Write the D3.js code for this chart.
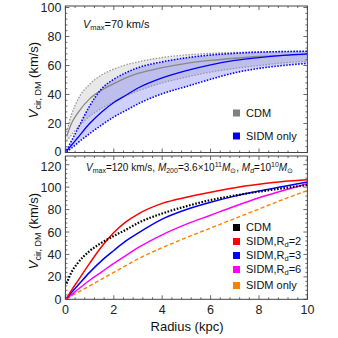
<!DOCTYPE html>
<html><head><meta charset="utf-8">
<script src="https://cdn.jsdelivr.net/npm/d3@7"></script>
<style>
html,body{margin:0;padding:0;background:#fff;}
svg{display:block;font-family:"Liberation Sans",Arial,sans-serif;}
</style></head>
<body><svg id="c" width="338" height="338"></svg>
<script>
// ---------- data ----------
const rTop = [0.05,0.25,0.5,1,1.5,2,2.5,3,4,5,6,7,8,9,10];
const cdmHi  = [14,26,36,47,53.5,57.5,60.5,62.5,65.5,67.3,68.4,69,69.4,69.6,69.8];
const cdmMid = [11,20,27,37,43,47.5,51.5,54.5,58.5,61.5,63.5,65,66.2,67,67.7];
const cdmLo  = [8,12,17,25,30.5,35,39,42.5,48,52,55.5,58,60,61.8,63];
const sidmHi  = [1.5,8,16,32,44,50.5,55,58.5,62.5,65.3,67.2,68.4,69.2,69.6,69.8];
const sidmMid = [1,5,10,20,28,34.5,39.5,44.5,51.5,56.5,60.5,63.5,65.5,67,68];
const sidmLo  = [0.5,3,6.5,13,19,24.5,29,33.5,40.5,45.5,50.5,55,58,60,61.5];

const rBot = [0.05,0.25,0.5,1,1.5,2,2.5,3,4,5,6,7,8,9,10];
const vCDM   = [14,24,32,43,50.5,56.5,62,68,76.5,83,88.5,92.5,96,99,102];
const vRd2   = [1,8,16,32,47,59.5,69,76,85.5,91,95.5,99.5,102.5,105,106.5];
const vRd3   = [1,6,12,24,34.5,43.5,52,59,71.5,80,86.5,92,96.5,100.5,104.5];
const vRd6   = [0.5,4,8.5,17,24.5,32,39,46,57.5,67,75,83,90.5,97,103];
const vSIDM  = [0.3,3,6,12,18,24,30,36,46,55,63.5,72,80.5,89,97];

const xTicks = [0,2,4,6,8,10];
const yTicksTop = [0,20,40,60,80,100];
const yTicksBot = [0,20,40,60,80,100,120];

// ---------- layout ----------
const svg = d3.select("#c");
const x = d3.scaleLinear([0,10],[65.4,307.4]);
const yT = d3.scaleLinear([0,100],[152.5,7.5]);
const yB = d3.scaleLinear([0,120],[299.3,164.7]);
const frameColor = "#444";

function panel(y, top, bottom, yMajor, yMinorStep, yMax, showX, labelShift){
  const g = svg.append("g");
  g.append("rect").attr("x",x(0)).attr("y",top).attr("width",x(10)-x(0)).attr("height",bottom-top)
    .attr("fill","none").attr("stroke",frameColor).attr("stroke-width",1);
  const xMinor = d3.range(0,10.001,0.4);
  xMinor.forEach(v=>{
    const isMaj = Math.abs(v/2-Math.round(v/2))<1e-6;
    const L = isMaj?4:2;
    g.append("line").attr("x1",x(v)).attr("x2",x(v)).attr("y1",bottom).attr("y2",bottom-L).attr("stroke",frameColor).attr("stroke-width",0.8);
    g.append("line").attr("x1",x(v)).attr("x2",x(v)).attr("y1",top).attr("y2",top+L).attr("stroke",frameColor).attr("stroke-width",0.8);
  });
  const yMinor = d3.range(0,yMax+0.001,yMinorStep);
  yMinor.forEach(v=>{
    const isMaj = yMajor.includes(Math.round(v));
    const L = isMaj?4:2;
    if (y(v) < top-0.5) return;
    g.append("line").attr("x1",x(0)).attr("x2",x(0)+L).attr("y1",y(v)).attr("y2",y(v)).attr("stroke",frameColor).attr("stroke-width",0.8);
    g.append("line").attr("x1",x(10)).attr("x2",x(10)-L).attr("y1",y(v)).attr("y2",y(v)).attr("stroke",frameColor).attr("stroke-width",0.8);
  });
  yMajor.forEach(v=>{
    g.append("text").attr("x",x(0)-4).attr("y",y(v)+(labelShift[v]||0)).attr("dy","0.36em").attr("text-anchor","end")
      .attr("font-size",12.5).attr("fill","#222").text(v);
  });
  if(showX){
    xTicks.forEach(v=>{
      g.append("text").attr("x",x(v)).attr("y",bottom+10).attr("dy","0.36em").attr("text-anchor","middle")
        .attr("font-size",12.5).attr("fill","#222").text(v);
    });
  }
  return g;
}

panel(yT, 6, 152.5, yTicksTop, 4, 100, false, {0:-1.5});
panel(yB, 156, 299.3, yTicksBot, 4, 124, true, {120:1.5});

const defs = svg.append("defs");
defs.append("clipPath").attr("id","clipT").append("rect").attr("x",x(0)).attr("y",6).attr("width",x(10)-x(0)).attr("height",146.5);
defs.append("clipPath").attr("id","clipB").append("rect").attr("x",x(0)).attr("y",156).attr("width",x(10)-x(0)).attr("height",143.3);

// ---------- top panel ----------
const gT = svg.append("g").attr("clip-path","url(#clipT)");
function band(rs, lo, hi, y){
  return d3.area().x((d,i)=>x(rs[i])).y0((d,i)=>y(lo[i])).y1((d,i)=>y(hi[i])).curve(d3.curveMonotoneX)(rs);
}
function line(rs, vs, y){
  return d3.line().x((d,i)=>x(rs[i])).y((d,i)=>y(vs[i])).curve(d3.curveMonotoneX)(rs);
}
gT.append("path").attr("d",band(rTop,cdmLo,cdmHi,yT)).attr("fill","rgba(150,150,150,0.22)");
gT.append("path").attr("d",band(rTop,sidmLo,sidmHi,yT)).attr("fill","rgba(40,40,255,0.22)");
[cdmHi,cdmLo].forEach(a=>gT.append("path").attr("d",line(rTop,a,yT)).attr("fill","none")
  .attr("stroke","#999").attr("stroke-width",1.3).attr("stroke-dasharray","1.5,1.5"));
gT.append("path").attr("d",line(rTop,cdmMid,yT)).attr("fill","none").attr("stroke","#888").attr("stroke-width",1.3);
[sidmHi,sidmLo].forEach(a=>gT.append("path").attr("d",line(rTop,a,yT)).attr("fill","none")
  .attr("stroke","#0000ff").attr("stroke-width",1.6).attr("stroke-dasharray","1.5,1.5"));
gT.append("path").attr("d",line(rTop,sidmMid,yT)).attr("fill","none").attr("stroke","#0000ff").attr("stroke-width",1.3);

const t1 = svg.append("text").attr("x",83).attr("y",28).attr("font-size",11).attr("fill","#111");
t1.append("tspan").attr("font-style","italic").text("V");
t1.append("tspan").attr("font-size",7.5).attr("dy",2).text("max");
t1.append("tspan").attr("dy",-2).text("=70 km/s");

const legTop = [["CDM","#808080"],["SIDM only","#0000ff"]];
legTop.forEach((d,i)=>{
  const yy = 113 + i*23;
  svg.append("rect").attr("x",233).attr("y",yy-3.5).attr("width",7).attr("height",7).attr("fill",d[1]);
  svg.append("text").attr("x",246).attr("y",yy).attr("dy","0.36em").attr("font-size",11).attr("fill","#111").text(d[0]);
});

// ---------- bottom panel ----------
const gB = svg.append("g").attr("clip-path","url(#clipB)");
gB.append("path").attr("d",line(rBot,vSIDM,yB)).attr("fill","none").attr("stroke","#ff8000").attr("stroke-width",1.4).attr("stroke-dasharray","4,2.5");
gB.append("path").attr("d",line(rBot,vRd6,yB)).attr("fill","none").attr("stroke","#ff00ff").attr("stroke-width",1.5);
gB.append("path").attr("d",line(rBot,vRd3,yB)).attr("fill","none").attr("stroke","#0000ff").attr("stroke-width",1.5);
gB.append("path").attr("d",line(rBot,vRd2,yB)).attr("fill","none").attr("stroke","#ff0000").attr("stroke-width",1.5);
gB.append("path").attr("d",line(rBot,vCDM,yB)).attr("fill","none").attr("stroke","#000").attr("stroke-width",2.2).attr("stroke-dasharray","1.6,1.6");

const t2 = svg.append("text").attr("x",86).attr("y",171).attr("font-size",10).attr("fill","#111");
t2.append("tspan").attr("font-style","italic").text("V");
t2.append("tspan").attr("font-size",7).attr("dy",2).text("max");
t2.append("tspan").attr("dy",-2).text("=120 km/s, ");
t2.append("tspan").attr("font-style","italic").text("M");
t2.append("tspan").attr("font-size",7).attr("dy",2).text("200");
t2.append("tspan").attr("dy",-2).text("=3.6×10");
t2.append("tspan").attr("font-size",7).attr("dy",-4).text("11");
t2.append("tspan").attr("font-style","italic").attr("dy",4).text("M");
t2.append("tspan").attr("font-size",7).attr("dy",2).text("⊙");
t2.append("tspan").attr("dy",-2).text(", ");
t2.append("tspan").attr("font-style","italic").text("M");
t2.append("tspan").attr("font-size",7).attr("font-style","italic").attr("dy",2).text("d");
t2.append("tspan").attr("dy",-2).text("=10");
t2.append("tspan").attr("font-size",7).attr("dy",-4).text("10");
t2.append("tspan").attr("font-style","italic").attr("dy",4).text("M");
t2.append("tspan").attr("font-size",7).attr("dy",2).text("⊙");

const legBot = [["CDM","#000000",null],["SIDM,R","#ff0000","=2"],["SIDM,R","#0000ff","=3"],["SIDM,R","#ff00ff","=6"],["SIDM only","#ff8000",null]];
const legY = [227.5,241.5,255.5,269.5,285.5];
legBot.forEach((d,i)=>{
  const yy = legY[i];
  svg.append("rect").attr("x",233).attr("y",yy-3.5).attr("width",7).attr("height",7).attr("fill",d[1]);
  const t = svg.append("text").attr("x",246).attr("y",yy).attr("dy","0.36em").attr("font-size",11).attr("fill","#111");
  t.append("tspan").text(d[0]);
  if(d[2]){
    t.append("tspan").attr("font-size",7.5).attr("dy",2).text("d");
    t.append("tspan").attr("dy",-2).text(d[2]);
  }
});

function yTitle(cy){
  const t = svg.append("text").attr("transform",`translate(38,${cy}) rotate(-90)`).attr("text-anchor","middle")
    .attr("font-size",13).attr("fill","#111");
  t.append("tspan").attr("font-style","italic").text("V");
  t.append("tspan").attr("font-size",9).attr("dy",3).text("cir, DM");
  t.append("tspan").attr("dy",-3).text(" (km/s)");
}
yTitle(80);
yTitle(231);
svg.append("text").attr("x",187).attr("y",331).attr("text-anchor","middle").attr("font-size",13).attr("fill","#111").text("Radius (kpc)");
</script></body></html>
